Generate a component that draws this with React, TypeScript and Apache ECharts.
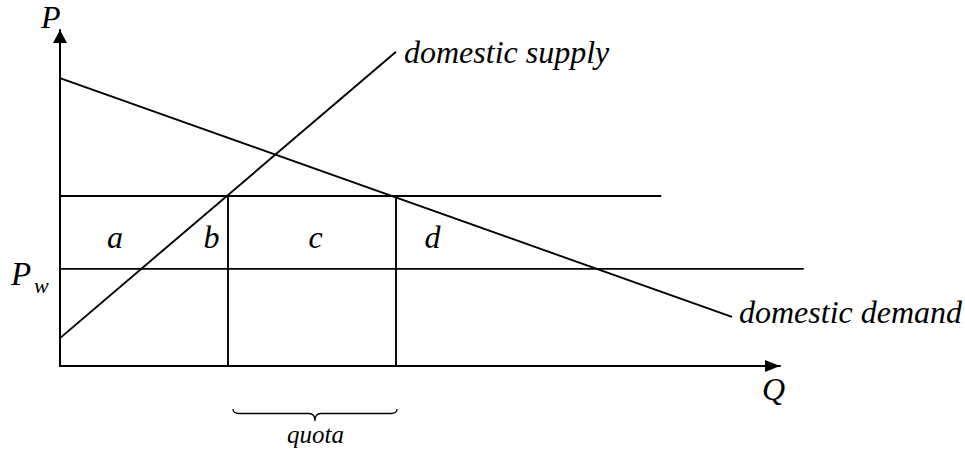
import React, { useEffect, useRef } from "react";
import * as echarts from "echarts";

// Model units: x (quantity), y (price) 0..100
const supplyLine: number[][] = [[0, 8.3], [46.67, 93.5]];
const demandLine: number[][] = [[0, 85.7], [93.33, 14.6]];
const quotaPrice = 50.6;
const worldPrice = 28.9;
const quotaPriceLineEnd = 83.5;
const worldPriceLineEnd = 103.3;
const quotaQuantities = [23.33, 46.67];

const regionLabels = ["a", "b", "c", "d"];
const regionLabelX = [115, 211.5, 315.5, 432.5];

const FONT = "'Liberation Serif', 'Times New Roman', serif";

echarts.graphic.registerShape(
  "brace",
  echarts.graphic.extendPath(
    "M0,0 Q0,4.5 6,4.5 L76,4.5 Q82,4.5 82,12 Q82,4.5 88,4.5 L158,4.5 Q164,4.5 164,0",
    {}
  )
);

function lineSeries(name: string, data: number[][], width = 1.9) {
  return {
    name,
    type: "line",
    data,
    xAxisIndex: 1,
    yAxisIndex: 1,
    symbol: "none",
    clip: false,
    silent: true,
    lineStyle: { color: "#000", width },
  };
}

function txt(text: string, x: number, y: number, size: number, align = "left") {
  return {
    type: "text",
    x,
    y,
    silent: true,
    style: {
      text,
      fill: "#000",
      font: `italic ${size}px ${FONT}`,
      align,
      verticalAlign: "middle",
    },
  };
}

const hiddenAxis = {
  type: "value",
  splitLine: { show: false },
  axisTick: { show: false },
  axisLabel: { show: false },
  axisLine: { show: false },
};

export default function App() {
  const ref = useRef<HTMLDivElement>(null);
  useEffect(() => {
    if (!ref.current) return;
    const chart = echarts.init(ref.current, null, { renderer: "svg" });
    const series: any[] = [
      lineSeries("supply", supplyLine),
      lineSeries("demand", demandLine),
      lineSeries("quotaPrice", [[0, quotaPrice], [quotaPriceLineEnd, quotaPrice]]),
      lineSeries("worldPrice", [[0, worldPrice], [worldPriceLineEnd, worldPrice]]),
      ...quotaQuantities.map((q, i) =>
        lineSeries("quota" + i, [[q, 0], [q, quotaPrice]])
      ),
    ];
    const graphic: any[] = [
      txt("P", 41, 17, 32),
      txt("Q", 762, 389, 32),
      txt("P", 11, 274, 33),
      txt("w", 34, 285, 22),
      txt("domestic supply", 404, 52, 32),
      txt("domestic demand", 739, 312, 32),
      txt("quota", 315.5, 434, 25, "center"),
      ...regionLabels.map((l, i) => txt(l, regionLabelX[i], 237, 32, "center")),
      {
        type: "brace",
        x: 233,
        y: 409,
        silent: true,
        style: { stroke: "#000", fill: "none", lineWidth: 1.3 },
      },
    ];
    const axisArrowLine = (size: number[], off: number) => ({
      show: true,
      symbol: ["none", "triangle"],
      symbolSize: size,
      symbolOffset: [0, off],
      lineStyle: { color: "#000", width: 2 },
    });
    chart.setOption({
      animation: false,
      backgroundColor: "#fff",
      grid: [
        { left: 60, top: 30, width: 720, height: 336 },
        { left: 60, top: 30, width: 745, height: 336 },
      ],
      xAxis: [
        {
          ...hiddenAxis,
          gridIndex: 0,
          min: 0,
          max: 100,
          axisLine: axisArrowLine([12, 15], -7.5),
        },
        { ...hiddenAxis, gridIndex: 1, min: 0, max: 745 / 7.2 },
      ],
      yAxis: [
        {
          ...hiddenAxis,
          gridIndex: 0,
          min: 0,
          max: 100,
          axisLine: axisArrowLine([14, 13], -6.5),
        },
        { ...hiddenAxis, gridIndex: 1, min: 0, max: 100 },
      ],
      series,
      graphic,
    });
    return () => chart.dispose();
  }, []);
  return (
    <div
      ref={ref}
      style={{ position: "absolute", left: 0, top: 0, width: 965, height: 450, background: "#fff" }}
    />
  );
}
